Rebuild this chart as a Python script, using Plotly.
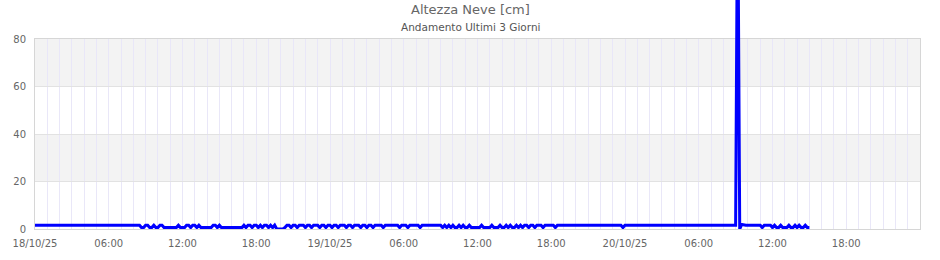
import pandas as pd
import plotly.graph_objects as go

# Snow height [cm], one reading every 10 minutes starting 18/10/25 00:00 (one row = one hour)
day1 = [1.6, 1.6, 1.6, 1.6, 1.6, 1.6,
        1.6, 1.6, 1.6, 1.6, 1.6, 1.6,
        1.6, 1.6, 1.6, 1.6, 1.6, 1.6,
        1.6, 1.6, 1.6, 1.6, 1.6, 1.6,
        1.6, 1.6, 1.9, 1.9, 1.6, 1.6,
        1.6, 1.6, 1.6, 1.6, 1.6, 1.6,
        1.6, 1.6, 1.6, 1.6, 1.9, 1.9,
        1.9, 1.6, 1.6, 1.6, 1.6, 1.6,
        1.6, 1.6, 1.6, 1.6, 0.6, 0.6,
        1.6, 1.6, 0.6, 0.6, 1.6, 0.6,
        0.6, 1.6, 1.6, 0.6, 0.6, 0.6,
        0.6, 0.6, 0.6, 0.6, 1.6, 0.6,
        0.6, 0.6, 1.6, 1.6, 0.6, 1.6,
        1.6, 0.6, 1.6, 0.6, 0.6, 0.6,
        0.6, 0.6, 0.6, 1.6, 1.6, 0.6,
        1.6, 0.6, 0.6, 0.6, 0.6, 0.6,
        0.6, 0.6, 0.6, 0.6, 0.6, 0.6,
        1.6, 0.6, 1.6, 1.6, 0.6, 1.6,
        1.6, 0.6, 1.6, 0.6, 1.6, 1.6,
        0.6, 1.6, 0.6, 1.6, 0.0, 0.0,
        0.0, 0.0, 0.6, 1.6, 1.6, 0.6,
        1.6, 1.6, 0.6, 1.6, 1.6, 1.6,
        0.6, 1.6, 1.6, 0.6, 1.6, 1.6,
        1.6, 0.6, 1.6, 1.6, 0.6, 1.6]
day2 = [1.6, 0.6, 1.6, 1.6, 0.6, 1.6,
        1.6, 1.6, 0.6, 1.6, 1.6, 0.6,
        1.6, 1.6, 1.6, 0.6, 1.6, 1.6,
        0.6, 1.6, 1.6, 0.6, 1.6, 1.6,
        1.6, 1.6, 0.6, 1.6, 1.6, 1.6,
        1.6, 1.6, 1.6, 1.6, 0.6, 1.6,
        1.6, 1.6, 0.6, 1.6, 1.6, 1.6,
        1.6, 1.6, 0.6, 1.6, 1.6, 1.6,
        1.6, 1.6, 1.6, 1.6, 1.6, 1.6,
        1.6, 0.6, 1.6, 0.6, 1.6, 0.6,
        1.6, 0.6, 0.6, 1.6, 0.6, 1.6,
        0.6, 0.6, 1.6, 0.6, 0.6, 0.6,
        0.6, 0.6, 1.6, 0.6, 0.6, 0.6,
        0.6, 1.6, 0.6, 0.6, 0.6, 1.6,
        0.6, 0.6, 1.6, 0.6, 1.6, 0.6,
        0.6, 1.6, 0.6, 1.6, 0.6, 1.6,
        1.6, 0.6, 1.6, 1.6, 0.6, 1.6,
        1.6, 1.6, 0.6, 1.6, 1.6, 1.6,
        1.6, 1.6, 0.6, 1.6, 1.6, 1.6,
        1.6, 1.6, 1.6, 1.6, 1.6, 1.6,
        1.6, 1.6, 1.6, 1.6, 1.6, 1.6,
        1.6, 1.6, 1.6, 1.6, 1.6, 1.6,
        1.6, 1.6, 1.6, 1.6, 1.6, 1.6,
        1.6, 1.6, 1.6, 1.6, 1.6, 0.6]
day3 = [1.6, 1.6, 1.6, 1.6, 1.6, 1.6,
        1.6, 1.6, 1.6, 1.6, 1.6, 1.6,
        1.6, 1.6, 1.6, 1.6, 1.6, 1.6,
        1.6, 1.6, 1.6, 1.6, 1.6, 1.6,
        1.6, 1.6, 1.6, 1.6, 1.6, 1.6,
        1.6, 1.6, 1.6, 1.6, 1.6, 1.6,
        1.6, 1.6, 1.6, 1.6, 1.6, 1.6,
        1.6, 1.6, 1.6, 1.6, 1.6, 1.6,
        1.6, 1.6, 1.6, 1.6, 1.6, 1.6,
        1.6, 150.0, 0.0, 1.9, 1.6, 1.6,
        1.6, 1.6, 1.6, 1.6, 1.6, 1.6,
        1.6, 0.6, 1.6, 1.6, 1.6, 1.6,
        0.6, 1.6, 0.6, 0.6, 1.6, 0.6,
        0.6, 0.6, 1.6, 0.6, 0.6, 1.6,
        0.6, 1.6, 0.6, 0.6, 1.6, 0.6,
        0.6]
snow_cm = day1 + day2 + day3
start_time = "2025-10-18 00:00"
end_time = "2025-10-21 00:00"

tick_times = ["2025-10-18 00:00", "2025-10-18 06:00", "2025-10-18 12:00", "2025-10-18 18:00",
              "2025-10-19 00:00", "2025-10-19 06:00", "2025-10-19 12:00", "2025-10-19 18:00",
              "2025-10-20 00:00", "2025-10-20 06:00", "2025-10-20 12:00", "2025-10-20 18:00"]
tick_labels = ["18/10/25", "06:00", "12:00", "18:00",
               "19/10/25", "06:00", "12:00", "18:00",
               "20/10/25", "06:00", "12:00", "18:00"]
y_ticks = [0, 20, 40, 60, 80]

times = pd.date_range(start_time, periods=len(snow_cm), freq="10min")

H = 260
plot_bottom_px = 229
plot_top_px = 39
main_frac = (plot_bottom_px - plot_top_px) / plot_bottom_px
y_max = 80

fig = go.Figure()
fig.add_trace(go.Scatter(x=times, y=snow_cm, mode="lines",
                         line=dict(color="#0000ff", width=3),
                         xaxis="x2", yaxis="y2", hoverinfo="x+y",
                         showlegend=False))

font_family = "DejaVu Sans"
grid_v = "#e9e7f8"
fig.update_layout(
    width=940, height=H, autosize=False,
    margin=dict(l=35, r=20, t=0, b=H - plot_bottom_px, pad=0, autoexpand=False),
    paper_bgcolor="white", plot_bgcolor="rgba(0,0,0,0)",
    font=dict(family=font_family, size=10, color="#666666"),
    showlegend=False,
    xaxis=dict(type="date", range=[start_time, end_time], domain=[0, 1], anchor="y",
               tickmode="array", tickvals=tick_times, ticktext=tick_labels,
               showgrid=True, gridcolor=grid_v, gridwidth=1,
               minor=dict(dtick=3600000, showgrid=True, gridcolor=grid_v, gridwidth=1),
               ticks="", showline=True, mirror=True, linecolor="#d6d6d6", linewidth=1,
               tickfont=dict(size=10, color="#666666"), zeroline=False,
               ticklabelstandoff=5, automargin=False),
    yaxis=dict(range=[0, y_max], domain=[0, main_frac], anchor="x",
               tickmode="array", tickvals=y_ticks,
               showgrid=True, gridcolor="#e2e2e2", gridwidth=1,
               ticks="", showline=True, mirror=True, linecolor="#d6d6d6", linewidth=1,
               tickfont=dict(size=10, color="#666666"), zeroline=False,
               ticklabelstandoff=6, automargin=False),
    xaxis2=dict(type="date", range=[start_time, end_time], domain=[0, 1], anchor="y2",
                visible=False, showgrid=False, automargin=False),
    yaxis2=dict(range=[0, y_max / main_frac], domain=[0, 1], anchor="x2",
                visible=False, showgrid=False, automargin=False),
)

for lo, hi in [(20, 40), (60, 80)]:
    fig.add_shape(type="rect", xref="x domain", yref="y", x0=0, x1=1, y0=lo, y1=hi,
                  fillcolor="#f3f3f3", line=dict(width=0), layer="below")

fig.add_annotation(text="Altezza Neve [cm]", xref="paper", yref="paper",
                   x=(470 - 35) / (940 - 55), y=1 - 10 / plot_bottom_px,
                   xanchor="center", yanchor="middle", showarrow=False,
                   font=dict(family=font_family, size=13, color="#666666"))
fig.add_annotation(text="Andamento Ultimi 3 Giorni", xref="paper", yref="paper",
                   x=(470 - 35) / (940 - 55), y=1 - 27 / plot_bottom_px,
                   xanchor="center", yanchor="middle", showarrow=False,
                   font=dict(family=font_family, size=10.5, color="#555555"))

fig.write_html("out.html")
